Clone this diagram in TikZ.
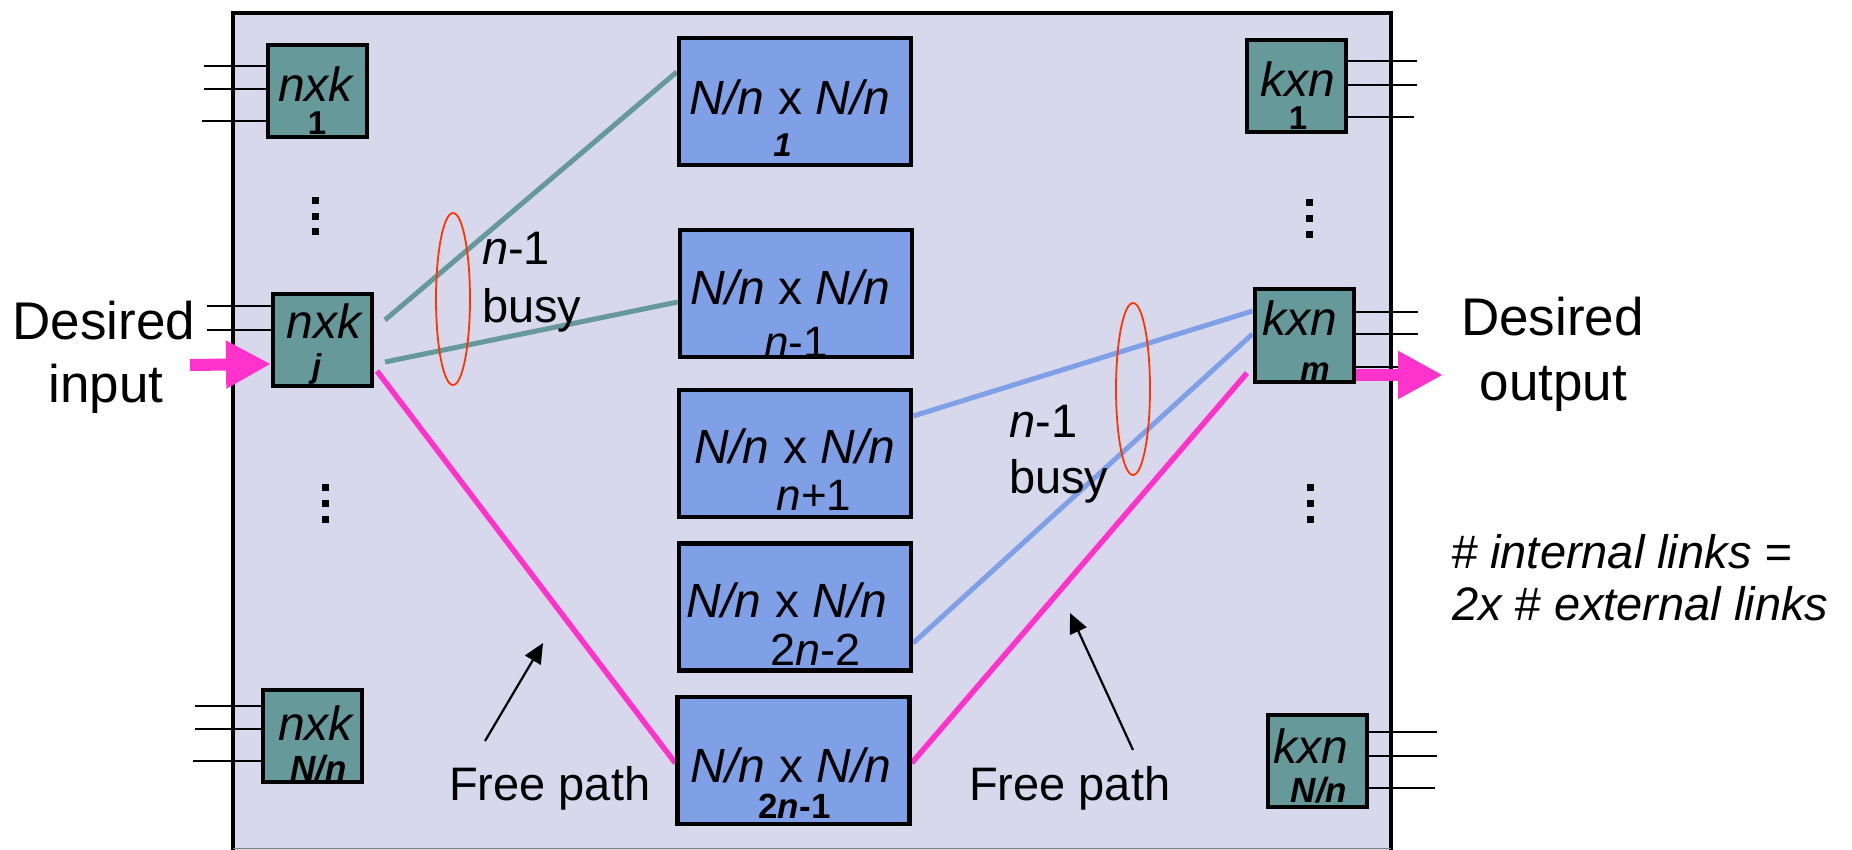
\documentclass[tikz,border=0pt]{standalone}
\usepackage{fontspec}
\setmainfont{Liberation Sans}
\usetikzlibrary{arrows.meta,shapes.geometric}
\definecolor{lav}{HTML}{D8D8EC}
\definecolor{tealc}{HTML}{669999}
\definecolor{mblue}{HTML}{7F9FE6}
\definecolor{bluel}{HTML}{7F9FE6}
\definecolor{pinkc}{HTML}{FF33CC}
\definecolor{redc}{HTML}{FF3300}
\newcommand{\fsz}[1]{\fontsize{#1}{#1}\selectfont}
\pgfdeclarelayer{bg}
\pgfsetlayers{bg,main}
\begin{document}
\begin{tikzpicture}[x=1pt,y=-1pt,
  sbox/.style={draw=black,line width=4pt,fill=tealc,inner sep=0pt,minimum width=99pt,minimum height=92pt},
  mbox/.style={draw=black,line width=4.5pt,fill=mblue,inner sep=0pt,minimum width=232pt,minimum height=127pt},
  txt/.style={inner sep=0pt,anchor=base},
  txtw/.style={inner sep=0pt,anchor=base west},
  stub/.style={line width=2pt,draw=black},
  gline/.style={line width=5pt,draw=tealc},
  bline/.style={line width=5pt,draw=bluel},
  pline/.style={line width=5.5pt,draw=pinkc},
  bigarrow/.style={line width=12pt,draw=pinkc,fill=pinkc,-{Triangle[length=45pt,width=45pt]}},
  ring/.style={ellipse,draw=redc,line width=1.8pt,inner sep=0pt,minimum width=34pt,minimum height=172pt},
  farrow/.style={line width=2.2pt,draw=black,-{Triangle[length=20pt,width=18pt]}},
  dotsq/.style={fill=black,minimum size=7pt,inner sep=0pt}]
\useasboundingbox (0,0) rectangle (1852,850);

% switch boxes
\node[sbox] (n1) at (317.5,91) {};
\node[sbox] (nj) at (322.5,340) {};
\node[sbox] (nN) at (312,736) {};
\node[sbox] (k1) at (1296,86.5) {};
\node[sbox] (km) at (1304,335.5) {};
\node[sbox] (kN) at (1317.5,761) {};
\node[mbox] (m1) at (795,101.5) {};
\node[mbox] (m2) at (796,293.5) {};
\node[mbox] (m3) at (795,453.5) {};
\node[mbox] (m4) at (795,607) {};
\node[mbox] (m5) at (793.5,760.5) {};

% box texts
\node[txt] (t1a) at (316.5,102) {\fsz{48}\textit{nxk}};
\node[txt] (t1b) at (317,135) {\fsz{33}\textbf{1}};
\node[txt] (tja) at (325,338) {\fsz{48}\textit{nxk}};
\node[txt] (tjb) at (317,377) {\fsz{33}\textbf{\textit{j}}};
\node[txt] (tNa) at (316.5,740) {\fsz{48}\textit{nxk}};
\node[txt] (tNb) at (318.5,780) {\fsz{35}\textbf{\textit{N/n}}};
\node[txt] (u1a) at (1297.5,97) {\fsz{48}\textit{kxn}};
\node[txt] (u1b) at (1298,130) {\fsz{33}\textbf{1}};
\node[txt] (uma) at (1299.5,335) {\fsz{48}\textit{kxn}};
\node[txt] (umb) at (1315,380) {\fsz{33}\textbf{\textit{m}}};
\node[txt] (uNa) at (1310.5,763) {\fsz{48}\textit{kxn}};
\node[txt] (uNb) at (1319,802) {\fsz{35}\textbf{\textit{N/n}}};

\node[txt] (s1a) at (790,115) {\fsz{48}\textit{N/n} x \textit{N/n}};
\node[txt] (s1b) at (782.5,157) {\fsz{33}\textbf{\textit{1}}};
\node[txt] (s2a) at (790.5,305) {\fsz{48}\textit{N/n} x \textit{N/n}};
\node[txt] (s2b) at (796,357) {\fsz{44}\textit{n}-1};
\node[txt] (s3a) at (795,463) {\fsz{48}\textit{N/n} x \textit{N/n}};
\node[txt] (s3b) at (814,510) {\fsz{44}\textit{n}+1};
\node[txt] (s4a) at (787,617) {\fsz{48}\textit{N/n} x \textit{N/n}};
\node[txt] (s4b) at (815.5,665) {\fsz{45}2\textit{n}-2};
\node[txt] (s5a) at (791,782) {\fsz{48}\textit{N/n} x \textit{N/n}};
\node[txt] (s5b) at (794.5,818) {\fsz{35}\textbf{2\textit{n}-1}};

% dots
\node[dotsq] (d1) at (315,201) {};
\node[dotsq] (d2) at (315,217) {};
\node[dotsq] (d3) at (315,232) {};
\node[dotsq] (d4) at (325.5,487.5) {};
\node[dotsq] (d5) at (325.5,503) {};
\node[dotsq] (d6) at (325.5,519) {};
\node[dotsq] (d7) at (1309.5,203) {};
\node[dotsq] (d8) at (1309.5,218.5) {};
\node[dotsq] (d9) at (1309.5,235) {};
\node[dotsq] (d10) at (1310,487.5) {};
\node[dotsq] (d11) at (1310,503) {};
\node[dotsq] (d12) at (1310,519) {};

% rings
\node[ring] (e1) at (453,299) {};
\node[ring] (e2) at (1133,389) {};

% labels
\node[txtw] (b1a) at (482,265) {\fsz{47}\textit{n}-1};
\node[txtw] (b1b) at (482,322) {\fsz{47}busy};
\node[txtw] (b2a) at (1009,437) {\fsz{47}\textit{n}-1};
\node[txtw] (b2b) at (1009,493) {\fsz{47}busy};
\node[txtw] (f1) at (449,800) {\fsz{47}Free path};
\node[txtw] (f2) at (969,800) {\fsz{47}Free path};
\node[txt] (di1) at (104,339) {\fsz{53}Desired};
\node[txt] (di2) at (106,402) {\fsz{53}input};
\node[txt] (do1) at (1552.5,335) {\fsz{53}Desired};
\node[txt] (do2) at (1553.5,400) {\fsz{53}output};
\node[txtw] (c1) at (1451,568) {\fsz{47}\textit{\# internal links =}};
\node[txtw] (c2) at (1452,620) {\fsz{47}\textit{2x \# external links}};

% free coordinates
\coordinate (g1) at (385,320);
\coordinate (g2) at (385,362);
\coordinate (p1) at (377,371);
\coordinate (pr) at (1247,373);
\coordinate (inA) at (190,365);
\coordinate (outA) at (1443,375);
\coordinate (fa1) at (485,741);
\coordinate (fa1t) at (543,643);
\coordinate (fa2) at (1133,750);
\coordinate (fa2t) at (1070,613);

\begin{pgfonlayer}{bg}
\fill[lav] (233,13) rectangle (1391,850);
\draw[line width=4.5pt] (233,850) -- (233,13) -- (1391,13) -- (1391,850);
\draw[gray,line width=1pt] (233,848) -- (1391,848);
% stubs
\draw[stub] (n1.west |- 0,66) -- +(-62,0);
\draw[stub] (n1.west |- 0,89) -- +(-62,0);
\draw[stub] (n1.west |- 0,121) -- +(-64,0);
\draw[stub] (nj.west |- 0,306) -- +(-64,0);
\draw[stub] (nj.west |- 0,330) -- +(-64,0);
\draw[stub] (nN.west |- 0,706) -- +(-66,0);
\draw[stub] (nN.west |- 0,729) -- +(-66,0);
\draw[stub] (nN.west |- 0,761) -- +(-68,0);
\draw[stub] (k1.east |- 0,61) -- +(69,0);
\draw[stub] (k1.east |- 0,85) -- +(69,0);
\draw[stub] (k1.east |- 0,117) -- +(66,0);
\draw[stub] (km.east |- 0,312) -- +(62,0);
\draw[stub] (km.east |- 0,334) -- +(62,0);
\draw[stub] (km.east |- 0,367) -- +(60,0);
\draw[stub] (kN.east |- 0,732) -- +(68,0);
\draw[stub] (kN.east |- 0,756) -- +(68,0);
\draw[stub] (kN.east |- 0,788) -- +(66,0);
% connectors
\draw[gline] (g1) -- (m1.west |- 0,72);
\draw[gline] (g2) -- (m2.west |- 0,302);
\draw[pline] (p1) -- (m5.west |- 0,763);
\draw[pline] (m5.east |- 0,763) -- (pr);
\draw[bline] (m3.east |- 0,416) -- (km.west |- 0,311);
\draw[bline] (m4.east |- 0,643) -- (km.west |- 0,334);
\end{pgfonlayer}

\draw[bigarrow] (inA) -- (nj.west |- 0,364);
\draw[bigarrow] (km.east |- 0,375) -- (outA);
\draw[farrow] (fa1) -- (fa1t);
\draw[farrow] (fa2) -- (fa2t);
\end{tikzpicture}
\end{document}
